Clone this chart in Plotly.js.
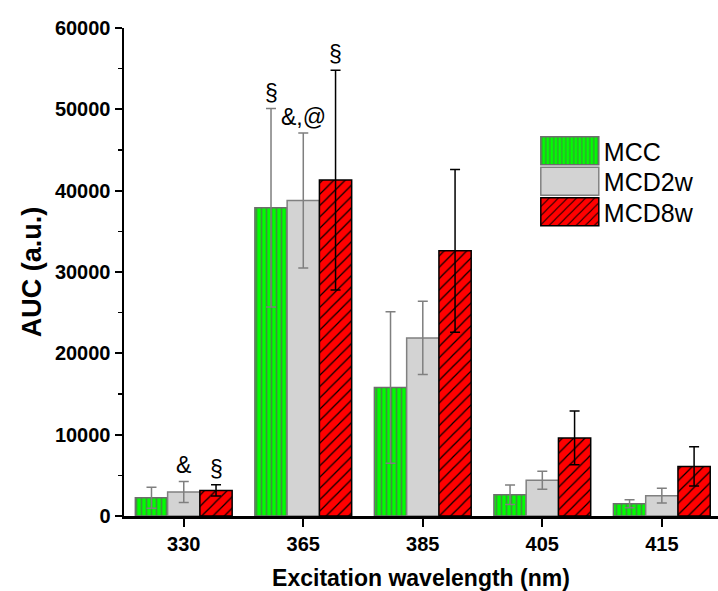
<!DOCTYPE html>
<html>
<head>
<meta charset="utf-8">
<script src="https://cdn.plot.ly/plotly-3.0.1.min.js"></script>
<style>html,body{margin:0;padding:0;background:#fff;}#chart{width:718px;height:591px;}</style>
</head>
<body>
<div id="chart"></div>
<script>
const categories = ['330', '365', '385', '405', '415'];
const seriesNames = ['MCC', 'MCD2w', 'MCD8w'];
const mccValues = [2250, 37900, 15800, 2600, 1500];
const mccErrors = [1300, 12200, 9300, 1200, 500];
const mcd2wValues = [2950, 38800, 21900, 4400, 2500];
const mcd2wErrors = [1300, 8300, 4500, 1100, 900];
const mcd8wValues = [3150, 41300, 32600, 9600, 6100];
const mcd8wErrors = [700, 13500, 10000, 3300, 2400];
const mccMarks = ['', '§', '', '', ''];
const mcd2wMarks = ['&', '&,@', '', '', ''];
const mcd8wMarks = ['§', '§', '', '', ''];
const yTickValues = [0, 10000, 20000, 30000, 40000, 50000, 60000];

const FONT = 'Liberation Sans, Arial, sans-serif';
const bargap = 0.19;
const barW = (1 - bargap) / 3;
const xIdx = categories.map((c, i) => i);

const markers = [
  {color: '#00ff00', line: {color: '#6e6e6e', width: 1.5},
   pattern: {shape: '|', fgcolor: '#3c963c', bgcolor: '#00ff00', size: 5, solidity: 0.35}},
  {color: '#d3d3d3', line: {color: '#808080', width: 1.5}},
  {color: '#ff0000', line: {color: '#000000', width: 1.5},
   pattern: {shape: '/', fgcolor: '#000000', bgcolor: '#ff0000', size: 8, solidity: 0.15}}
];
const values = [mccValues, mcd2wValues, mcd8wValues];
const errors = [mccErrors, mcd2wErrors, mcd8wErrors];
const errColors = ['#7f7f7f', '#7f7f7f', '#000000'];

const traces = [];
seriesNames.forEach((name, k) => {
  traces.push({
    type: 'bar', name: name, x: xIdx, y: values[k], showlegend: false,
    error_y: {type: 'data', array: errors[k], visible: true, color: errColors[k], thickness: 1.5, width: 5},
    marker: markers[k]
  });
});
// legend-only entries on hidden axes (no error-bar glyphs in the legend, no effect on grouping)
seriesNames.forEach((name, k) => {
  traces.push({type: 'bar', name: name, x: [null], y: [null], xaxis: 'x2', yaxis: 'y2',
               showlegend: true, marker: markers[k], hoverinfo: 'skip'});
});

const annotations = [];
[[mccMarks, -barW], [mcd2wMarks, 0], [mcd8wMarks, barW]].forEach(([marks, off], k) => {
  marks.forEach((m, i) => {
    if (!m) return;
    annotations.push({x: i + off, y: values[k][i] + errors[k][i], xref: 'x', yref: 'y', text: m, showarrow: false,
      yanchor: 'bottom', yshift: 1, font: {family: FONT, size: 23, color: '#000'}});
  });
});

const layout = {
  width: 718, height: 591,
  margin: {l: 124, r: 0, t: 28, b: 75},
  paper_bgcolor: '#fff', plot_bgcolor: '#fff',
  barmode: 'group', bargap: bargap, bargroupgap: 0,
  showlegend: true,
  legend: {x: 0.70, y: 0.795, xanchor: 'left', yanchor: 'top', bgcolor: 'rgba(0,0,0,0)',
           font: {family: FONT, size: 25, color: '#000'}, tracegroupgap: 0, itemwidth: 54},
  xaxis: {
    range: [-0.5, 4.47], tickmode: 'array', tickvals: xIdx, ticktext: categories,
    showline: true, linecolor: '#000', linewidth: 2.5, ticks: 'outside', ticklen: 8, tickwidth: 2, tickcolor: '#000',
    showgrid: false, zeroline: false, fixedrange: true,
    tickfont: {family: FONT, size: 20, color: '#000', weight: 'bold'},
    title: {text: 'Excitation wavelength (nm)', font: {family: FONT, size: 23, color: '#000', weight: 'bold'}, standoff: 18}
  },
  yaxis: {
    range: [0, 60000], tickmode: 'array', tickvals: yTickValues, ticktext: yTickValues.map(String),
    showline: true, linecolor: '#000', linewidth: 2.5, ticks: 'outside', ticklen: 7, tickwidth: 2, tickcolor: '#000',
    minor: {dtick: 5000, ticks: 'outside', ticklen: 4, tickwidth: 1.5, tickcolor: '#000', showgrid: false},
    showgrid: false, zeroline: false, fixedrange: true,
    tickfont: {family: FONT, size: 20, color: '#000', weight: 'bold'},
    title: {text: 'AUC (a.u.)', font: {family: FONT, size: 27, color: '#000', weight: 'bold'}, standoff: 6}
  },
  xaxis2: {overlaying: 'x', visible: false, range: [0, 1], fixedrange: true},
  yaxis2: {overlaying: 'y', visible: false, range: [0, 1], fixedrange: true},
  annotations: annotations
};

Plotly.newPlot('chart', traces, layout, {staticPlot: true}).then(() => {
  document.querySelectorAll('.legend .legendpoints path').forEach(p => {
    p.setAttribute('d', 'M27,14H-31V-14H27Z');
  });
  const items = document.querySelectorAll('.legend g.traces');
  if (items.length) {
    const m = /translate\(\s*([-\d.]+)[ ,]+([-\d.]+)\s*\)/.exec(items[0].getAttribute('transform') || '');
    if (m) {
      const x0 = parseFloat(m[1]), y0 = parseFloat(m[2]);
      items.forEach((g, k) => g.setAttribute('transform', 'translate(' + x0 + ',' + (y0 + k * 30.5) + ')'));
    }
  }
});
</script>
</body>
</html>
